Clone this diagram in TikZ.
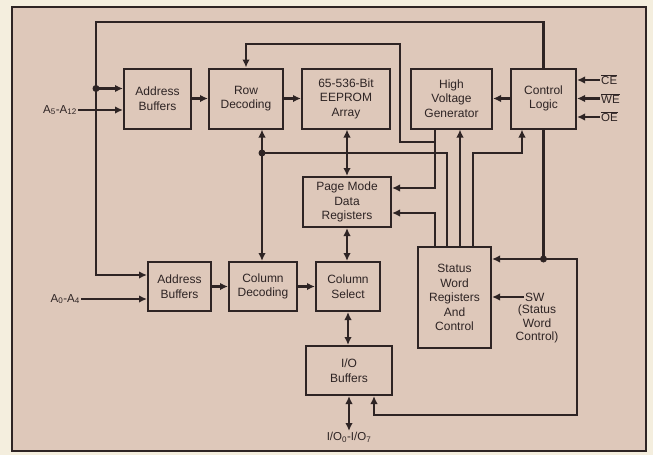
\documentclass[tikz,border=0pt]{standalone}
\usepackage{fontspec}
\setmainfont{Liberation Sans}
\usepackage{xcolor}
\usepackage{tikz}
\usetikzlibrary{positioning, arrows.meta, calc}

\definecolor{paper}{RGB}{244,238,222}
\definecolor{panel}{RGB}{222,200,186}
\definecolor{ink}{RGB}{46,36,36}

\tikzset{
    block/.style={rectangle, draw=ink, line width=2pt, align=center, text=ink,
        font=\fontsize{12}{14.5}\selectfont, inner sep=1pt},
    wire/.style={draw=ink, line width=2.8pt},
    pin/.style={text=ink, font=\fontsize{11.5}{13.5}\selectfont, inner sep=1pt},
}

\begin{document}
\begin{tikzpicture}[x=1pt, y=-1pt, >={Latex[length=8pt,width=7.5pt]}]
    \useasboundingbox (0,0) rectangle (653,455);
    \fill[paper] (0,0) rectangle (653,455);
    \draw[ink, line width=2pt, fill=panel] (12,7) rectangle (646,451);

    % top row
    \node[block, minimum width=67pt, minimum height=60pt] (abufT) at (157.5,98.5) {Address\\Buffers};
    \node[block, minimum width=74pt, minimum height=60pt] (rowdec) at (246,98.5) {Row\\Decoding};
    \node[block, minimum width=88pt, minimum height=60pt] (eeprom) at (346,98.5) {65-536-Bit\\EEPROM\\Array};
    \node[block, minimum width=81pt, minimum height=60pt] (hvgen) at (451.5,98.5) {High\\Voltage\\Generator};
    \node[block, minimum width=65pt, minimum height=60pt] (ctrl) at (543.5,98.5) {Control\\Logic};

    % middle and bottom
    \node[block, minimum width=88pt, minimum height=50pt] (page) at (347,202) {Page Mode\\Data\\Registers};
    \node[block, minimum width=63pt, minimum height=49pt] (abufB) at (179.5,286.5) {Address\\Buffers};
    \node[block, minimum width=68pt, minimum height=49pt] (coldec) at (263,286.5) {Column\\Decoding};
    \node[block, minimum width=64pt, minimum height=49pt] (colsel) at (348,286.5) {Column\\Select};
    \node[block, minimum width=73pt, minimum height=101pt] (status) at (454.5,297.5) {Status\\Word\\Registers\\And\\Control};
    \node[block, minimum width=86pt, minimum height=49pt] (iobuf) at (349,370.5) {I/O\\Buffers};

    % pins
    \node[pin, anchor=east] (a5) at (78,110) {A\textsubscript{5}-A\textsubscript{12}};
    \node[pin, anchor=east] (a0) at (81,299) {A\textsubscript{0}-A\textsubscript{4}};
    \node[pin, anchor=west] (ce) at (600,80) {$\overline{\mbox{CE}}$};
    \node[pin, anchor=west] (we) at (600,98.5) {$\overline{\mbox{WE}}$};
    \node[pin, anchor=west] (oe) at (600,117) {$\overline{\mbox{OE}}$};
    \node[pin, anchor=west, font=\fontsize{12}{13.5}\selectfont] (sw) at (524,297) {SW};
    \node[pin, anchor=north, align=center, font=\fontsize{12}{13.5}\selectfont] (swnote) at (537,304) {(Status\\Word\\Control)};
    \node[pin, anchor=north] (io) at (349,431) {I/O\textsubscript{0}-I/O\textsubscript{7}};

    % bend points
    \coordinate (loopTL) at (96,22);
    \coordinate (dotA) at (96,88.5);
    \coordinate (rcj) at (262,153);
    \coordinate (bus) at (0,153);
    \coordinate (hvj) at (435,142);
    \coordinate (cj) at (543.5,259);
    \coordinate (s1) at ([xshift=-19.5pt]status.north);
    \coordinate (s2) at ([xshift=-7.5pt]status.north);
    \coordinate (s3) at ([xshift=5.5pt]status.north);
    \coordinate (s4) at ([xshift=18.5pt]status.north);
    \coordinate (c4) at ([xshift=-21.5pt]ctrl.south);
    \coordinate (io4) at ([xshift=25pt]iobuf.south);

    % address paths
    \draw[wire,->] (ctrl.north) |- (loopTL) |- ([yshift=11.5pt]abufB.west);
    \draw[wire,->] (dotA) -- (dotA -| abufT.west);
    \fill[ink] (dotA) circle (3.5pt);
    \draw[wire,->] (a5.east) -- (a5.east -| abufT.west);
    \draw[wire,->] (a0.east) -- (a0.east -| abufB.west);
    \draw[wire,->] (abufT) -- (rowdec);
    \draw[wire,->] (rowdec) -- (eeprom);
    \draw[wire,->] (abufB) -- (coldec);
    \draw[wire,->] (coldec) -- (colsel);

    % data path
    \draw[wire,<->] (page.north |- eeprom.south) -- (page.north);
    \draw[wire,<->] (page.south) -- (page.south |- colsel.north);
    \draw[wire,<->] (colsel.south) -- (colsel.south |- iobuf.north);
    \draw[wire,<->] (iobuf.south) -- (io.north);

    % high voltage
    \draw[wire,->] ([xshift=-16.5pt]hvgen.south) |- ([yshift=14pt]page.east);
    \draw[wire,->] (hvj) -| (400,44) -| (rowdec.north);
    \draw[wire,->] (ctrl) -- (hvgen);

    % control inputs
    \draw[wire,->] (ce.west) -- (ce.west -| ctrl.east);
    \draw[wire,->] (we.west) -- (we.west -| ctrl.east);
    \draw[wire,->] (oe.west) -- (oe.west -| ctrl.east);

    % status word
    \draw[wire,->] (s1) |- ([yshift=-11pt]page.east);
    \draw[wire] (s2) |- (rcj);
    \draw[wire,->] (rcj) -- (rcj |- rowdec.south);
    \draw[wire,->] (rcj) -- (rcj |- coldec.north);
    \fill[ink] (rcj) circle (3.5pt);
    \draw[wire,->] (s3) -- (s3 |- hvgen.south);
    \draw[wire,->] (s4) |- (c4 |- bus) -- (c4);
    \draw[wire,->] (sw.west) -- (sw.west -| status.east);

    % control output
    \draw[wire] (ctrl.south) -- (cj);
    \draw[wire,->] (cj) -- (cj -| status.east);
    \draw[wire,->] (cj) -| (577,415) -| (io4);
    \fill[ink] (cj) circle (3.5pt);
\end{tikzpicture}
\end{document}
